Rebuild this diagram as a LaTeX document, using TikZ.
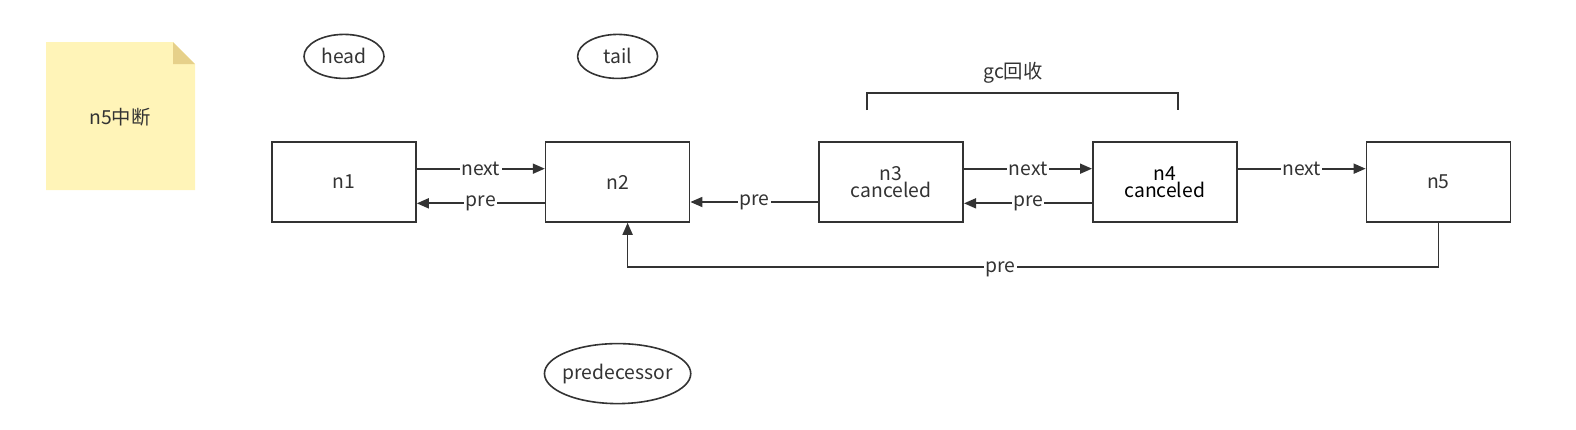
\documentclass[tikz,border=0pt]{standalone}
\usepackage{fontspec}
\setmainfont{Noto Sans CJK SC}
\usepackage{xcolor}
\usetikzlibrary{positioning,arrows.meta,shapes.geometric}

\definecolor{linegray}{HTML}{333333}
\definecolor{notefill}{HTML}{FFF4B8}
\definecolor{notefold}{HTML}{E6D08A}

\begin{document}
\begin{tikzpicture}[
    x=0.75pt, y=-0.75pt,
    node distance=96pt,
    every node/.style={font=\fontsize{14.5}{17}\selectfont, text=linegray},
    listnode/.style={
        rectangle,
        draw=linegray,
        line width=1.2pt,
        fill=white,
        align=center,
        minimum width=108pt,
        minimum height=60pt,
        inner sep=2pt
    },
    pointer/.style={
        ellipse,
        draw=linegray,
        line width=1.2pt,
        minimum width=60pt,
        minimum height=33pt,
        inner sep=0pt
    },
    arrow/.style={
        -{Triangle[length=9pt,width=7.5pt]},
        line width=1.3pt,
        draw=linegray
    },
    lbl/.style={fill=white, inner sep=1pt}
]
\useasboundingbox (0,0) rectangle (1576,429);

% Sticky note
\fill[notefill] (46,42) -- (173,42) -- (195,64) -- (195,190) -- (46,190) -- cycle;
\fill[notefold] (173,42) -- (195,64) -- (173,64) -- cycle;
\node (note) at (120,117) {n5中断};

% Main list nodes
\node[listnode] (n1) at (344,182) {n1};
\node[listnode, right=of n1] (n2) {n2};
\node[listnode, right=of n2] (n3) {n3\\[-4pt]canceled};
\node[listnode, right=of n3, text=black] (n4) {n4\\[-4pt]canceled};
\node[listnode, right=of n4] (n5) {n5};

% Pointers
\node[pointer, above=46.5pt of n1] (head) {head};
\node[pointer, above=46.5pt of n2] (tail) {tail};
\node[pointer, below=90pt of n2, inner xsep=-2.5pt, minimum height=45pt] (pred) {predecessor};

% next / pre links
\draw[arrow] ([yshift=10pt]n1.east) -- node[lbl] {next} ([yshift=10pt]n2.west);
\draw[arrow] ([yshift=-16pt]n2.west) -- node[lbl] {pre} ([yshift=-16pt]n1.east);
\draw[arrow] ([yshift=-15pt]n3.west) -- node[lbl] {pre} ([yshift=-15pt]n2.east);
\draw[arrow] ([yshift=10pt]n3.east) -- node[lbl] {next} ([yshift=10pt]n4.west);
\draw[arrow] ([yshift=-16pt]n4.west) -- node[lbl] {pre} ([yshift=-16pt]n3.east);
\draw[arrow] ([yshift=10pt]n4.east) -- node[lbl] {next} ([yshift=10pt]n5.west);

% n5 back to n2
\draw[arrow] (n5.south) -- ++(0,44) -| node[pos=0.27, lbl, yshift=-2pt] {pre} ([xshift=7.5pt]n2.south);

% gc bracket
\coordinate (gcl) at (867,110);
\coordinate (gcr) at (1178,110);
\draw[line width=1.3pt, linegray] (gcl) -- ++(0,-17) -| (gcr);
\node (gc) at (1013,73) {gc回收};

\end{tikzpicture}
\end{document}
